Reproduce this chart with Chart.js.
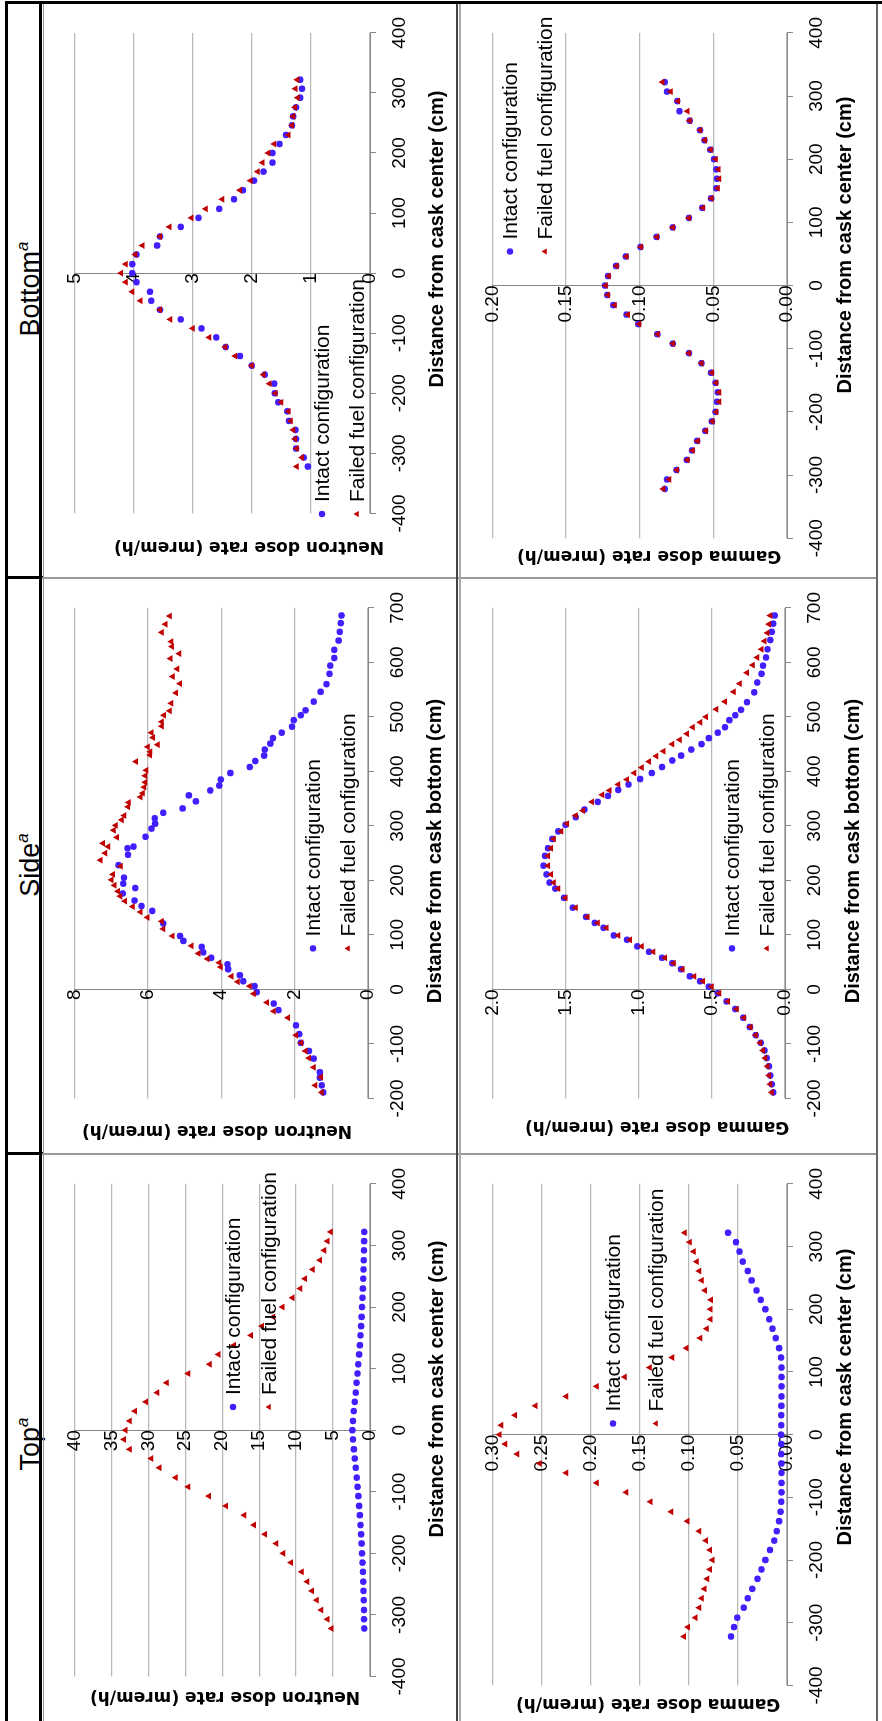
<!DOCTYPE html>
<html>
<head>
<meta charset="utf-8">
<script src="https://cdn.jsdelivr.net/npm/chart.js@4.4.1/dist/chart.umd.min.js"></script>
<style>
  html, body { margin: 0; padding: 0; background: #fff; }
  body { width: 882px; height: 1721px; overflow: hidden; position: relative; }
  /* the table is laid out landscape and turned a quarter to the left */
  #page { position: absolute; left: 0; top: 0; width: 1721px; height: 882px;
          transform-origin: 0 0; transform: translate(0, 1721px) rotate(-90deg); }
  .ln { position: absolute; }
  .head { position: absolute; top: 6px; height: 34px; line-height: 34px; width: 300px;
          text-align: center; font-family: "Liberation Sans"; font-size: 27px; color: #000; }
  .head i { font-size: 17px; vertical-align: 11px; }
  canvas { position: absolute; }
</style>
</head>
<body>
<div id="page">
  <div class="head" style="left:127px">Top<i>a</i></div>
  <div class="head" style="left:706px">Side<i>a</i></div>
  <div class="head" style="left:1282px">Bottom<i>a</i></div>
</div>
<script>
const BLUE = '#4020ff';
const RED = '#c00000';

// positions along the top / bottom of the cask (cm from center)
const xCenter = [-322, -307, -292, -276, -261, -246, -230, -215, -200, -184, -169, -154, -138, -123, -107, -92, -77, -61, -46, -31, -15,
  0, 15, 31, 46, 61, 77, 92, 107, 123, 138, 154, 169, 184, 200, 215, 230, 246, 261, 276, 292, 307, 322];

// Top - neutron (mrem/h)
const topNeutronIntact = [0.78, 0.8, 0.82, 0.84, 0.87, 0.9, 0.95, 1.0, 1.07, 1.13, 1.2, 1.28, 1.37, 1.47, 1.57, 1.68, 1.8, 1.92, 2.05, 2.18, 2.3,
  2.38, 2.3, 2.19, 2.06, 1.93, 1.81, 1.69, 1.58, 1.47, 1.37, 1.28, 1.2, 1.13, 1.07, 1.01, 0.96, 0.91, 0.87, 0.84, 0.81, 0.79, 0.77];
const topNeutronFailed = [5.2, 5.75, 6.6, 7.2, 7.85, 8.5, 9.25, 10.7, 11.75, 12.7, 14.2, 15.7, 17.0, 19.5, 21.8, 24.6, 26.3, 28.5, 29.6, 32.5, 33.3,
  33.1, 32.5, 31.8, 30.3, 28.8, 27.5, 24.6, 21.7, 20.5, 18.4, 16.1, 14.6, 13.1, 11.85, 10.5, 9.45, 8.8, 7.75, 6.75, 6.2, 5.75, 5.3];

// Top - gamma (mrem/h)
const topGammaIntact = [0.057, 0.054, 0.0507, 0.044, 0.04, 0.0353, 0.03, 0.026, 0.022, 0.0173, 0.013, 0.0105, 0.008, 0.0065, 0.0058, 0.0055,
  0.0055, 0.0056, 0.0057, 0.0058, 0.0059, 0.006, 0.0059, 0.0058, 0.0057, 0.0056, 0.0055, 0.0055, 0.0056, 0.006, 0.008, 0.0115, 0.0147,
  0.018, 0.022, 0.0268, 0.031, 0.036, 0.04, 0.045, 0.0484, 0.052, 0.06];
const topGammaFailed = [0.105, 0.1008, 0.0932, 0.0893, 0.0867, 0.084, 0.0811, 0.0785, 0.0759, 0.0785, 0.0824, 0.0893, 0.1014, 0.1178, 0.139,
  0.1636, 0.1937, 0.2247, 0.2519, 0.2748, 0.2869, 0.2928, 0.2911, 0.277, 0.2561, 0.2247, 0.1937, 0.1652, 0.1397, 0.1168, 0.1024, 0.0883,
  0.0818, 0.0779, 0.0779, 0.0775, 0.0834, 0.0867, 0.0893, 0.092, 0.0949, 0.0991, 0.104];

// Bottom - neutron (mrem/h)
const bottomNeutronIntact = [1.05, 1.12, 1.25, 1.25, 1.26, 1.37, 1.4, 1.55, 1.61, 1.62, 1.78, 2.0, 2.2, 2.44, 2.6, 2.85, 3.2, 3.55, 3.7, 3.72, 3.95,
  4.02, 4.02, 3.95, 3.6, 3.55, 3.2, 2.9, 2.55, 2.3, 2.15, 1.96, 1.8, 1.65, 1.65, 1.53, 1.42, 1.32, 1.3, 1.25, 1.18, 1.15, 1.18];
const bottomNeutronFailed = [1.24, 1.15, 1.24, 1.27, 1.3, 1.34, 1.38, 1.5, 1.6, 1.7, 1.8, 2.0, 2.28, 2.45, 2.72, 3.0, 3.38, 3.55, 3.88, 4.02, 4.13,
  4.21, 4.13, 3.97, 3.85, 3.55, 3.39, 3.02, 2.78, 2.5, 2.2, 2.02, 1.9, 1.82, 1.72, 1.62, 1.38, 1.32, 1.3, 1.27, 1.22, 1.26, 1.23];

// Bottom - gamma (mrem/h)
const bottomGammaIntact = [0.083, 0.0815, 0.075, 0.068, 0.0645, 0.061, 0.0555, 0.051, 0.0485, 0.0475, 0.047, 0.0485, 0.0515, 0.058, 0.0665,
  0.0775, 0.088, 0.101, 0.109, 0.118, 0.122, 0.1235, 0.1215, 0.116, 0.1095, 0.0995, 0.0885, 0.0775, 0.0665, 0.0575, 0.0515, 0.048, 0.0475,
  0.048, 0.0495, 0.052, 0.056, 0.059, 0.066, 0.073, 0.0745, 0.0815, 0.083];
const bottomGammaFailed = [0.084, 0.08, 0.0746, 0.0676, 0.064, 0.0606, 0.055, 0.0506, 0.048, 0.046, 0.046, 0.048, 0.051, 0.058, 0.0665, 0.0774,
  0.0877, 0.1003, 0.108, 0.117, 0.1215, 0.123, 0.121, 0.1156, 0.109, 0.0992, 0.0883, 0.0774, 0.0665, 0.0571, 0.0513, 0.047, 0.046, 0.0465,
  0.0484, 0.0517, 0.0556, 0.0589, 0.066, 0.0676, 0.074, 0.079, 0.0846];

// Side - neutron (cm from cask bottom, mrem/h)
const sideNeutronIntactX = [-189, -176, -162, -152, -127, -113, -98, -82, -66, -38, -26, -5, 6, 15, 26, 37, 46, 58, 68, 78, 89, 98, 121, 144, 153,
  163, 176, 186, 194, 205, 228, 247, 259, 262, 280, 295, 304, 314, 324, 332, 345, 356, 365, 374, 385, 397, 408, 419, 429, 440, 451, 461, 471,
  482, 494, 503, 512, 528, 546, 560, 579, 594, 608, 623, 640, 656, 672, 686];
const sideNeutronIntact = [1.22, 1.26, 1.31, 1.31, 1.48, 1.61, 1.83, 1.87, 1.96, 2.44, 2.57, 3.03, 3.09, 3.4, 3.49, 3.81, 3.83, 4.27, 4.49, 4.53,
  5.03, 5.12, 5.58, 5.88, 6.17, 6.36, 6.68, 6.34, 6.67, 6.65, 6.8, 6.54, 6.55, 6.39, 6.06, 5.9, 5.8, 5.81, 5.58, 5.05, 4.69, 4.88, 4.3, 4.05,
  4.01, 3.75, 3.22, 3.07, 2.83, 2.81, 2.66, 2.59, 2.35, 2.07, 2.02, 1.83, 1.7, 1.48, 1.29, 1.13, 1.05, 1.03, 0.92, 0.92, 0.8, 0.77, 0.74, 0.72];
const sideNeutronFailedX = [-189, -176, -161, -143, -126, -113, -98, -84, -52, -40, -24, -8, 6, 14, 24, 41, 49, 56, 66, 80, 98, 111, 125, 132, 142,
  152, 162, 171, 180, 191, 201, 211, 226, 237, 250, 262, 268, 279, 292, 301, 311, 319, 335, 343, 353, 360, 371, 380, 392, 402, 418, 430, 436,
  445, 449, 462, 471, 483, 491, 503, 511, 525, 544, 561, 574, 588, 607, 616, 629, 638, 655, 670, 685];
const sideNeutronFailed = [1.26, 1.44, 1.28, 1.48, 1.61, 1.7, 1.82, 1.96, 2.18, 2.57, 2.75, 3.11, 3.22, 3.55, 3.72, 4.01, 4.05, 4.37, 4.62, 4.81,
  5.33, 5.58, 5.62, 6.01, 6.2, 6.41, 6.62, 6.75, 6.81, 6.91, 6.99, 6.95, 6.74, 7.29, 7.16, 7.08, 7.22, 6.84, 6.93, 6.87, 6.71, 6.64, 6.54, 6.52,
  6.2, 6.14, 6.1, 6.07, 6.07, 6.04, 6.32, 5.94, 5.93, 6.0, 5.73, 5.86, 5.9, 5.62, 5.62, 5.56, 5.4, 5.36, 5.23, 5.12, 5.32, 5.2, 5.38, 5.14,
  5.34, 5.36, 5.62, 5.52, 5.4];

// Side - gamma (cm from cask bottom, mrem/h)
const sideGammaIntactX = [-189, -174, -158, -141, -126, -112, -98, -84, -69, -52, -36, -22, -7, 5, 15, 24, 37, 48, 58, 69, 79, 91, 99, 113, 122,
  133, 150, 168, 185, 196, 211, 227, 245, 259, 276, 290, 302, 316, 330, 344, 355, 366, 376, 386, 397, 408, 420, 429, 440, 450, 461, 471, 481,
  494, 503, 513, 527, 545, 563, 579, 594, 609, 624, 641, 656, 671, 686];
const sideGammaIntact = [0.08, 0.09, 0.1, 0.11, 0.125, 0.14, 0.165, 0.2, 0.24, 0.285, 0.34, 0.4, 0.46, 0.52, 0.58, 0.65, 0.71, 0.77, 0.84, 0.93,
  1.01, 1.08, 1.17, 1.24, 1.3, 1.36, 1.45, 1.51, 1.57, 1.61, 1.63, 1.65, 1.64, 1.62, 1.59, 1.55, 1.5, 1.43, 1.37, 1.28, 1.21, 1.14, 1.07, 0.99,
  0.91, 0.84, 0.77, 0.71, 0.64, 0.57, 0.52, 0.46, 0.41, 0.38, 0.34, 0.3, 0.26, 0.21, 0.19, 0.16, 0.15, 0.13, 0.12, 0.1, 0.09, 0.08, 0.07];
const sideGammaFailedX = [-189, -174, -158, -141, -126, -112, -98, -84, -69, -52, -36, -22, -7, 5, 15, 24, 37, 48, 58, 69, 79, 91, 99, 113, 122,
  133, 150, 168, 185, 196, 211, 227, 245, 259, 276, 290, 304, 319, 328, 344, 357, 365, 376, 385, 397, 407, 418, 428, 437, 450, 458, 469, 481,
  490, 500, 514, 528, 546, 561, 581, 595, 609, 624, 639, 654, 670, 686];
const sideGammaFailed = [0.09, 0.1, 0.11, 0.12, 0.135, 0.15, 0.17, 0.2, 0.235, 0.28, 0.33, 0.39, 0.45, 0.5, 0.56, 0.62, 0.7, 0.76, 0.82, 0.9,
  0.98, 1.06, 1.14, 1.22, 1.28, 1.35, 1.43, 1.5, 1.55, 1.58, 1.6, 1.62, 1.62, 1.6, 1.58, 1.53, 1.49, 1.43, 1.38, 1.32, 1.25, 1.2, 1.14, 1.08,
  1.03, 0.98, 0.93, 0.88, 0.83, 0.77, 0.72, 0.67, 0.63, 0.58, 0.54, 0.47, 0.41, 0.35, 0.31, 0.26, 0.22, 0.19, 0.16, 0.14, 0.12, 0.11, 0.1];

const XAXIS_H = 40;
const FONT = '"Liberation Sans"';
Chart.defaults.font.family = FONT;

// table rules, landscape coordinates
const page = document.getElementById('page');
function rule(l, t, w, h, c) {
  const d = document.createElement('div');
  d.className = 'ln';
  d.style.cssText = `left:${l}px;top:${t}px;width:${w}px;height:${h}px;background:${c}`;
  page.appendChild(d);
}
rule(0, 5, 1720, 3, '#000');
rule(0, 39, 1720, 3, '#000');
rule(0, 43, 1717, 1, '#999');
rule(1717, 5, 3, 877, '#000');
rule(1142, 5, 3, 38, '#000');
rule(566, 5, 3, 38, '#000');
rule(1142, 42, 2, 836, '#999');
rule(566, 42, 2, 836, '#999');
rule(0, 456, 1717, 1.5, '#444');
rule(0, 459, 1717, 2, '#aaa');
rule(0, 876, 1717, 2, '#666');

function marker(ctx, style, x, y, r) {
  ctx.beginPath();
  if (style === 'circle') {
    ctx.arc(x, y, r, 0, Math.PI * 2);
  } else {
    ctx.moveTo(x, y - r);
    ctx.lineTo(x + r * 0.866, y + r * 0.5);
    ctx.lineTo(x - r * 0.866, y + r * 0.5);
    ctx.closePath();
  }
  ctx.fill();
}

// axis titles and the in-plot legend sit off-centre, so they are drawn here
const overlay = {
  id: 'overlay',
  afterDraw(chart, args, o) {
    const ctx = chart.ctx;
    ctx.save();
    ctx.fillStyle = '#000';
    ctx.textAlign = 'center';
    ctx.textBaseline = 'middle';
    ctx.font = 'bold 20px ' + FONT;
    ctx.fillText(o.xTitle, o.xTitleAt[0] - o.dx, o.xTitleAt[1] - o.dy);
    ctx.save();
    ctx.translate(o.yTitleAt[0] - o.dx, o.yTitleAt[1] - o.dy);
    ctx.rotate(-Math.PI / 2);
    ctx.font = 'bold 17px "DejaVu Sans"';
    ctx.fillText(o.yTitle, 0, 0);
    ctx.restore();
    ctx.font = '21px ' + FONT;
    ctx.textAlign = 'left';
    chart.data.datasets.forEach((ds, i) => {
      const x = o.legendAt[0] - o.dx;
      const y = o.legendAt[i + 1] - o.dy;
      ctx.fillStyle = ds.pointBackgroundColor;
      marker(ctx, ds.pointStyle, x, y, ds.pointStyle === 'circle' ? 3.2 : 3.6);
      ctx.fillStyle = '#000';
      ctx.fillText(ds.label, x + 12, y + 1);
    });
    ctx.restore();
  }
};

function pts(xs, ys) {
  return xs.map((x, i) => ({ x: x, y: ys[i] }));
}

function makeChart(s) {
  const [cl, ct, cw, ch] = s.cell;
  const [pl, pr, pt, pb] = s.plot;
  const cv = document.createElement('canvas');
  cv.width = cw;
  cv.height = ch;
  cv.style.left = cl + 'px';
  cv.style.top = ct + 'px';
  cv.style.width = cw + 'px';
  cv.style.height = ch + 'px';
  page.appendChild(cv);

  new Chart(cv.getContext('2d'), {
    type: 'scatter',
    data: {
      datasets: [
        { label: 'Intact configuration', data: pts(s.intact[0], s.intact[1]), order: 2,
          pointStyle: 'circle', pointRadius: 3.3, pointBackgroundColor: BLUE, pointBorderWidth: 0 },
        { label: 'Failed fuel configuration', data: pts(s.failed[0], s.failed[1]), order: 1,
          pointStyle: 'triangle', pointRadius: 4, pointBackgroundColor: RED, pointBorderWidth: 0 }
      ]
    },
    options: {
      responsive: false,
      animation: false,
      devicePixelRatio: 1,
      layout: { padding: { left: pl - cl, right: cl + cw - pr, top: pt - ct, bottom: ct + ch - pb - XAXIS_H } },
      scales: {
        x: {
          type: 'linear', position: 'bottom', min: s.xRange[0], max: s.xRange[1],
          ticks: { stepSize: 100, color: '#000', font: { size: 19 }, padding: 12, maxRotation: 0, autoSkip: false },
          grid: { drawOnChartArea: false, tickLength: 6, color: '#888' },
          border: { color: '#888' },
          afterFit: sc => { sc.height = XAXIS_H; }
        },
        y: {
          type: 'linear', position: { x: 0 }, min: 0, max: s.yMax,
          ticks: { stepSize: s.yStep, color: '#000', font: { size: 19 }, padding: 19, callback: v => v.toFixed(s.dec) },
          grid: { color: '#b8b8b8', lineWidth: 1.3, drawTicks: false },
          border: { color: '#888' }
        }
      },
      plugins: {
        legend: { display: false },
        tooltip: { enabled: false },
        overlay: { dx: cl, dy: ct, xTitle: s.xTitle, yTitle: s.yTitle,
                   xTitleAt: s.xTitleAt, yTitleAt: s.yTitleAt, legendAt: s.legendAt }
      }
    },
    plugins: [overlay]
  });
}

const CENTER = 'Distance from cask center (cm)';
const BOTTOM = 'Distance from cask bottom (cm)';
const NEUTRON = 'Neutron dose rate (mrem/h)';
const GAMMA = 'Gamma dose rate (mrem/h)';

makeChart({ cell: [0, 44, 565, 411], plot: [44.5, 541, 64, 370], xRange: [-400, 400], yMax: 40, yStep: 5, dec: 0,
  intact: [xCenter, topNeutronIntact], failed: [xCenter, topNeutronFailed],
  xTitle: CENTER, yTitle: NEUTRON, xTitleAt: [332, 437], yTitleAt: [25, 225], legendAt: [314, 233, 269] });
makeChart({ cell: [0, 462, 565, 413], plot: [35.6, 542, 481, 787], xRange: [-400, 400], yMax: 0.3, yStep: 0.05, dec: 2,
  intact: [xCenter, topGammaIntact], failed: [xCenter, topGammaFailed],
  xTitle: CENTER, yTitle: GAMMA, xTitleAt: [324, 845], yTitleAt: [18, 648], legendAt: [297.5, 613, 656] });
makeChart({ cell: [569, 44, 572, 411], plot: [622.6, 1115, 62, 368], xRange: [-200, 700], yMax: 8, yStep: 2, dec: 0,
  intact: [sideNeutronIntactX, sideNeutronIntact], failed: [sideNeutronFailedX, sideNeutronFailed],
  xTitle: BOTTOM, yTitle: NEUTRON, xTitleAt: [870, 435], yTitleAt: [591, 217], legendAt: [772.6, 313, 348] });
makeChart({ cell: [569, 462, 572, 413], plot: [622.6, 1115, 481, 785], xRange: [-200, 700], yMax: 2, yStep: 0.5, dec: 1,
  intact: [sideGammaIntactX, sideGammaIntact], failed: [sideGammaFailedX, sideGammaFailed],
  xTitle: BOTTOM, yTitle: GAMMA, xTitleAt: [870, 853], yTitleAt: [594.7, 657], legendAt: [772.6, 732, 767] });
makeChart({ cell: [1145, 44, 571, 411], plot: [1207.6, 1692, 64, 370], xRange: [-400, 400], yMax: 5, yStep: 1, dec: 0,
  intact: [xCenter, bottomNeutronIntact], failed: [xCenter, bottomNeutronFailed],
  xTitle: CENTER, yTitle: NEUTRON, xTitleAt: [1482, 437], yTitleAt: [1175, 249], legendAt: [1207, 322, 357] });
makeChart({ cell: [1145, 462, 571, 413], plot: [1182.8, 1692, 481, 787], xRange: [-400, 400], yMax: 0.2, yStep: 0.05, dec: 2,
  intact: [xCenter, bottomGammaIntact], failed: [xCenter, bottomGammaFailed],
  xTitle: CENTER, yTitle: GAMMA, xTitleAt: [1476, 845], yTitleAt: [1166, 649], legendAt: [1469.5, 510, 545] });
</script>
</body>
</html>
